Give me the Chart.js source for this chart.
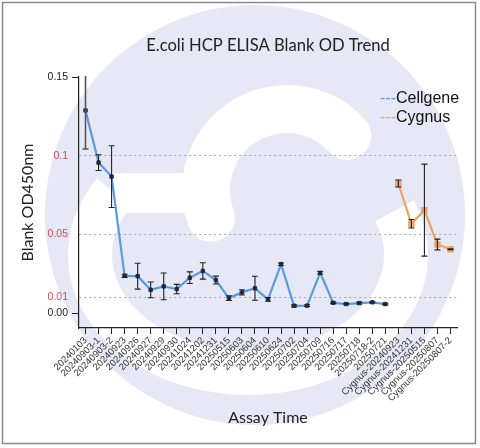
<!DOCTYPE html>
<html><head><meta charset="utf-8">
<script src="https://cdn.jsdelivr.net/npm/chart.js@4.4.1/dist/chart.umd.min.js"></script>
<style>html,body{margin:0;padding:0;background:#fff}canvas{display:block}</style>
</head><body>
<canvas id="c" width="480" height="448"></canvas>
<script>
const categories = ['20240103','20240903-1','20240903-2','20240923','20240926','20240927','20240929','20240930','20241024','20241202','20241231','20250515','20250603','20250604','20250610','20250624','20250702','20250704','20250709','20250716','20250717','20250718','20250718-2','20250721','Cygnus-20240923','Cygnus-20241231','Cygnus-20250515','Cygnus-20250807','Cygnus-20250807-2'];
const cellgeneValues = [0.1288,0.0957,0.0868,0.0238,0.0236,0.0149,0.0171,0.0154,0.0226,0.0269,0.0211,0.0097,0.0133,0.0159,0.0089,0.0312,0.0048,0.0049,0.0257,0.0067,0.0059,0.0065,0.0070,0.0059];
const cellgeneErrors = [0.0245,0.0050,0.0196,0.0010,0.0082,0.0050,0.0085,0.0030,0.0037,0.0052,0.0025,0.0015,0.0017,0.0076,0.0012,0.0008,0.0007,0.0006,0.0009,0.0005,0.0004,0.0006,0.0004,0.0005];
const cygnusValues = [0.0824,0.0569,0.0655,0.0437,0.0407];
const cygnusErrors = [0.0022,0.0027,0.0292,0.0034,0.0003];
const yTickValues = [0, 0.01, 0.05, 0.1, 0.15];
const yTickLabels = ['0.00','0.01','0.05','0.1','0.15'];
const redTicks = [0.01, 0.05, 0.1];
const seriesNames = ['Cellgene','Cygnus'];
const titleText = 'E.coli HCP ELISA Blank OD Trend';
const xTitle = 'Assay Time';
const yTitle = 'Blank OD450nm';

const nC = cellgeneValues.length, nG = cygnusValues.length;
const cellData = cellgeneValues.concat(new Array(nG).fill(null));
const cygData = new Array(nC).fill(null).concat(cygnusValues);
const cellErr = cellgeneErrors.concat(new Array(nG).fill(null));
const cygErr = new Array(nC).fill(null).concat(cygnusErrors);
const errs = [cellErr, cygErr];

const BLUE = '#5a9be0', ORANGE = '#e9a466';
const LAV = '#e6e8f5';
const isRed = v => redTicks.some(r => Math.abs(r - v) < 1e-9);

const bgPlugin = {
  id: 'bg',
  beforeDraw(chart) {
    const ctx = chart.ctx;
    const d = Math.PI / 180;
    ctx.save();
    ctx.fillStyle = '#fff';
    ctx.fillRect(0, 0, chart.width, chart.height);
    ctx.fillStyle = LAV;
    ctx.beginPath(); ctx.arc(255, 215, 210, 0, Math.PI * 2); ctx.fill();
    ctx.strokeStyle = '#fff';
    ctx.lineCap = 'butt';
    ctx.lineWidth = 44;
    ctx.beginPath();
    ctx.ellipse(248, 255, 158, 118, 0, -22 * d, 212 * d, false);
    ctx.stroke();
    ctx.lineWidth = 40;
    ctx.beginPath(); ctx.moveTo(112, 193); ctx.lineTo(215, 193); ctx.stroke();
    ctx.lineCap = 'round';
    ctx.lineWidth = 48;
    ctx.beginPath();
    ctx.arc(287, 190, 81, 160 * d, 318 * d, false);
    ctx.stroke();
    ctx.restore();
  },
  afterDraw(chart) {
    const ctx = chart.ctx, a = chart.chartArea;
    ctx.save();
    ctx.fillStyle = '#222';
    ctx.font = '16.6px Lato';
    ctx.textAlign = 'center'; ctx.textBaseline = 'middle';
    ctx.fillText(titleText, (a.left + a.right) / 2, 46);
    const cols = [BLUE, ORANGE];
    ctx.font = '16px "Liberation Sans"';
    ctx.textAlign = 'left';
    seriesNames.forEach((n, i) => {
      const y = 99 + i * 18.5;
      ctx.fillStyle = cols[i];
      ctx.fillText('---', 380, y);
      const w = ctx.measureText('---').width;
      ctx.fillStyle = '#111';
      ctx.fillText(n, 380 + w, y);
    });
    ctx.strokeStyle = '#8a8a8a'; ctx.lineWidth = 1.5;
    ctx.strokeRect(2.5, 2.5, 473, 441);
    ctx.restore();
  },
  afterDatasetsDraw(chart) {
    const ctx = chart.ctx, ys = chart.scales.y, a = chart.chartArea;
    ctx.save();
    ctx.beginPath(); ctx.rect(a.left, a.top - 1, a.right - a.left, a.bottom - a.top + 1); ctx.clip();
    ctx.lineWidth = 1.1;
    chart.data.datasets.forEach((ds, di) => {
      const meta = chart.getDatasetMeta(di);
      ds.data.forEach((v, i) => {
        if (v === null || errs[di][i] === null) return;
        const e = errs[di][i];
        const x = meta.data[i].x;
        const t = ys.getPixelForValue(v + e), b = ys.getPixelForValue(v - e);
        ctx.strokeStyle = (di === 0 && i === 0) ? '#555' : '#222';
        ctx.lineWidth = (di === 0 && i === 0) ? 1.6 : 1.1;
        ctx.beginPath();
        ctx.moveTo(x, t); ctx.lineTo(x, b);
        ctx.moveTo(x - 3, t); ctx.lineTo(x + 3, t);
        ctx.moveTo(x - 3, b); ctx.lineTo(x + 3, b);
        ctx.stroke();
      });
    });
    ctx.restore();
  }
};

new Chart(document.getElementById('c'), {
  type: 'line',
  data: {
    labels: categories,
    datasets: [
      { label: seriesNames[0], data: cellData, borderColor: BLUE, borderWidth: 2.2, backgroundColor: '#1c2a44',
        pointStyle: 'rect', pointRadius: 2.4, pointBorderColor: '#2a3550', pointBackgroundColor: '#1c2a44', pointBorderWidth: 1, spanGaps: false, tension: 0 },
      { label: seriesNames[1], data: cygData, borderColor: ORANGE, borderWidth: 2.2, backgroundColor: ORANGE,
        pointStyle: 'rect', pointRadius: 3, pointBorderColor: ORANGE, pointBackgroundColor: ORANGE, spanGaps: false, tension: 0 }
    ]
  },
  options: {
    responsive: false,
    animation: false,
    devicePixelRatio: 1,
    layout: { padding: { top: 77, left: 14.4, right: 23, bottom: 16.4 } },
    plugins: { legend: { display: false }, title: { display: false }, tooltip: { enabled: false } },
    scales: {
      x: {
        type: 'category',
        offset: true,
        afterFit: s => { s.height = 103.6; },
        grid: { drawOnChartArea: false, tickLength: 6, tickColor: '#222', color: '#222' },
        border: { color: '#222', width: 1.2 },
        ticks: { autoSkip: false, minRotation: 45, maxRotation: 45, padding: 1, color: '#333',
          font: { family: 'Liberation Sans', size: 9.5 } },
        title: { display: true, text: xTitle, color: '#222', font: { family: 'Lato', size: 16 }, padding: { top: 4, bottom: 4 } }
      },
      y: {
        min: -0.0093, max: 0.15,
        afterFit: s => { s.width = 64.6; },
        afterBuildTicks: s => { s.ticks = yTickValues.map(v => ({ value: v })); },
        grid: {
          color: c => (c.tick && isRed(c.tick.value)) ? '#a8a8a8' : 'rgba(0,0,0,0)',
          tickColor: c => (c.tick && isRed(c.tick.value)) ? 'rgba(0,0,0,0)' : '#222',
          tickLength: 7, lineWidth: 1
        },
        border: { color: '#222', width: 1.2, dash: [2, 3] },
        ticks: {
          padding: 4,
          color: c => isRed(c.tick.value) ? '#c8505e' : '#222',
          font: { family: 'Liberation Sans', size: 10.5 },
          callback: v => { const i = yTickValues.findIndex(t => Math.abs(t - v) < 1e-9); return i >= 0 ? yTickLabels[i] : ''; }
        },
        title: { display: true, text: yTitle, color: '#222', font: { family: 'Lato', size: 16 }, padding: { top: 4, bottom: 4 } }
      }
    }
  },
  plugins: [bgPlugin]
});
</script>
</body></html>
